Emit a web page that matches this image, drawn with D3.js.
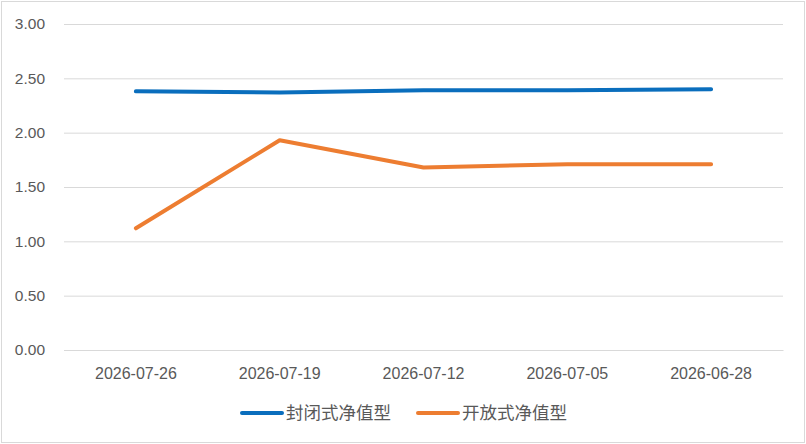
<!DOCTYPE html>
<html>
<head>
<meta charset="utf-8">
<script src="https://cdn.jsdelivr.net/npm/d3@7"></script>
<style>
  html, body { margin: 0; padding: 0; background: #fff; }
  svg text { font-family: "Liberation Sans", "Noto Sans CJK SC", sans-serif; fill: #595959; }
</style>
</head>
<body>
<div id="chart"></div>
<script>
'use strict';

const dates = ['2026-07-26', '2026-07-19', '2026-07-12', '2026-07-05', '2026-06-28'];
const closedValues = [2.38, 2.37, 2.39, 2.39, 2.40];
const openValues = [1.12, 1.93, 1.68, 1.71, 1.71];
const seriesNames = ['封闭式净值型', '开放式净值型'];
const yTicks = [0, 0.5, 1, 1.5, 2, 2.5, 3];

const width = 806;
const height = 444;
const colors = ['#0a6ebd', '#ed7d31'];

const svg = d3.select('#chart').append('svg')
  .attr('width', width)
  .attr('height', height);

// outer frame
svg.append('rect')
  .attr('x', 1.5).attr('y', 1.5)
  .attr('width', width - 3).attr('height', height - 3)
  .attr('fill', '#fff')
  .attr('stroke', '#d9d9d9')
  .attr('stroke-width', 1);

const xScale = d3.scaleBand()
  .domain(dates)
  .range([64, 783]);

const yScale = d3.scaleLinear()
  .domain([0, 3])
  .range([350, 24]);

// gridlines
const yAxis = d3.axisLeft(yScale)
  .tickValues(yTicks)
  .tickSize(-(783 - 64))
  .tickPadding(19)
  .tickFormat(d3.format('.2f'));

const yG = svg.append('g')
  .attr('transform', 'translate(64, 0)')
  .call(yAxis);
yG.select('.domain').remove();
yG.selectAll('.tick line').attr('stroke', '#d9d9d9').attr('stroke-width', 1);
yG.selectAll('.tick text').attr('font-size', 15.5).attr('fill', '#595959');

const xAxis = d3.axisBottom(xScale)
  .tickSize(0)
  .tickPadding(18);

const xG = svg.append('g')
  .attr('transform', 'translate(0, 350)')
  .call(xAxis);
xG.select('.domain').attr('stroke', '#d9d9d9');
xG.selectAll('.tick text').attr('font-size', 16).attr('fill', '#595959');

const line = d3.line()
  .x((d, i) => xScale(dates[i]) + xScale.bandwidth() / 2)
  .y(d => yScale(d));

[closedValues, openValues].forEach((values, i) => {
  svg.append('path')
    .datum(values)
    .attr('d', line)
    .attr('fill', 'none')
    .attr('stroke', colors[i])
    .attr('stroke-width', 4)
    .attr('stroke-linecap', 'round')
    .attr('stroke-linejoin', 'round');
});

// legend
const legendX = [242, 418];
seriesNames.forEach((name, i) => {
  const g = svg.append('g').attr('transform', `translate(${legendX[i]}, 413)`);
  g.append('line')
    .attr('x1', 0).attr('x2', 40)
    .attr('y1', 0).attr('y2', 0)
    .attr('stroke', colors[i])
    .attr('stroke-width', 4)
    .attr('stroke-linecap', 'round');
  g.append('text')
    .attr('x', 44)
    .attr('y', 0)
    .attr('dy', '0.35em')
    .attr('font-size', 17.5)
    .text(name);
});
</script>
</body>
</html>
